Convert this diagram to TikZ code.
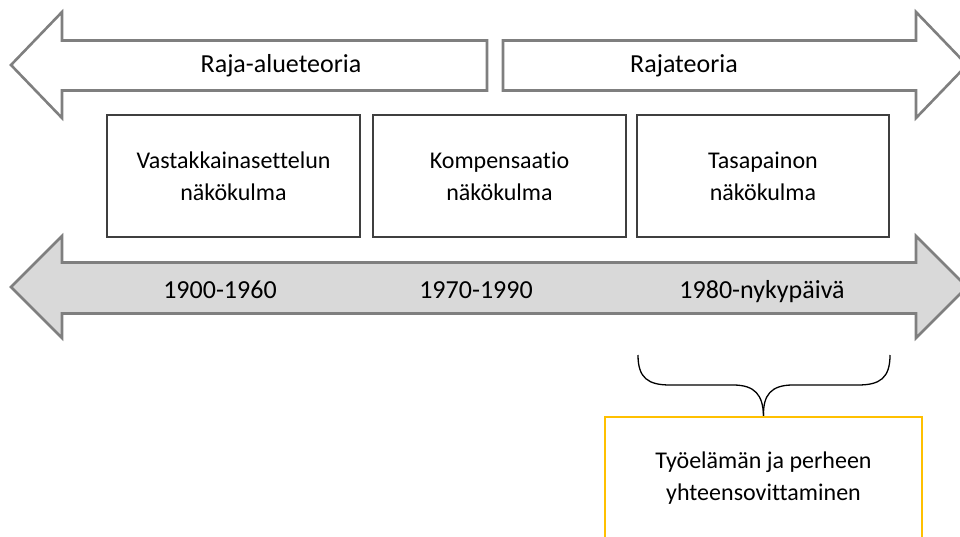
\documentclass[tikz,border=0pt]{standalone}
\usepackage{fontspec}
\setmainfont{Carlito}[Ligatures={NoCommon}]
\definecolor{arrowgray}{HTML}{7F7F7F}
\definecolor{timefill}{HTML}{D9D9D9}
\definecolor{boxline}{HTML}{3F3F3F}
\definecolor{gold}{HTML}{FFC000}
\tikzset{
  bigarrow/.style={draw=arrowgray, line width=2.6pt, line join=miter},
  arrowtext/.style={anchor=base, font=\fontsize{26}{32}\selectfont},
  viewbox/.style={draw=boxline, line width=1.3pt, minimum width=253pt,
    minimum height=122pt, align=center, inner sep=0pt,
    font=\fontsize{24}{32}\selectfont},
}
\begin{document}
\begin{tikzpicture}[x=1pt, y=-1pt]
\useasboundingbox (0,0) rectangle (960,537);
\clip (0,0) rectangle (960,537);

% top arrows
\draw[bigarrow, fill=white] (11,65) -- (62,12) -- (62,40.5) -- (487,40.5)
  -- (487,90.5) -- (62,90.5) -- (62,118) -- cycle;
\draw[bigarrow, fill=white] (503,40.5) -- (916,40.5) -- (916,12) -- (967,65)
  -- (916,118) -- (916,90.5) -- (503,90.5) -- cycle;
\node[arrowtext] (raja-alue) at (281,73) {Raja-alueteoria};
\node[arrowtext] (raja) at (684,73) {Rajateoria};

% the three viewpoints
\node[viewbox] (vastakkain) at (233.5,176) {Vastakkainasettelun\\näkökulma};
\node[viewbox] (kompensaatio) at (499.5,176) {Kompensaatio\\näkökulma};
\node[viewbox, minimum width=252pt] (tasapaino) at (763,176) {Tasapainon\\näkökulma};

% time line
\draw[bigarrow, fill=timefill] (11,287) -- (62,236) -- (62,262.5) -- (916,262.5)
  -- (916,236) -- (967,287) -- (916,338) -- (916,313.5) -- (62,313.5)
  -- (62,338) -- cycle;
\node[arrowtext] (t1) at (220,298) {1900-1960};
\node[arrowtext] (t2) at (476,298) {1970-1990};
\node[arrowtext] (t3) at (762,298) {1980-nykypäivä};

% reconciliation box and brace
\node[viewbox, draw=gold, line width=2.4pt, minimum width=317pt] (yhteen)
  at (763.5,478) {Työelämän ja perheen\\yhteensovittaminen};
\coordinate (bl) at (638,355);
\coordinate (br) at (890,355);
\draw[line width=1.3pt] (bl) .. controls (638,378) and (648,385) .. (670,385)
  -- (733,385) .. controls (755,385) and (763,395) .. (yhteen.north);
\draw[line width=1.3pt] (br) .. controls (890,378) and (880,385) .. (858,385)
  -- (793,385) .. controls (771,385) and (763,395) .. (yhteen.north);
\end{tikzpicture}
\end{document}
